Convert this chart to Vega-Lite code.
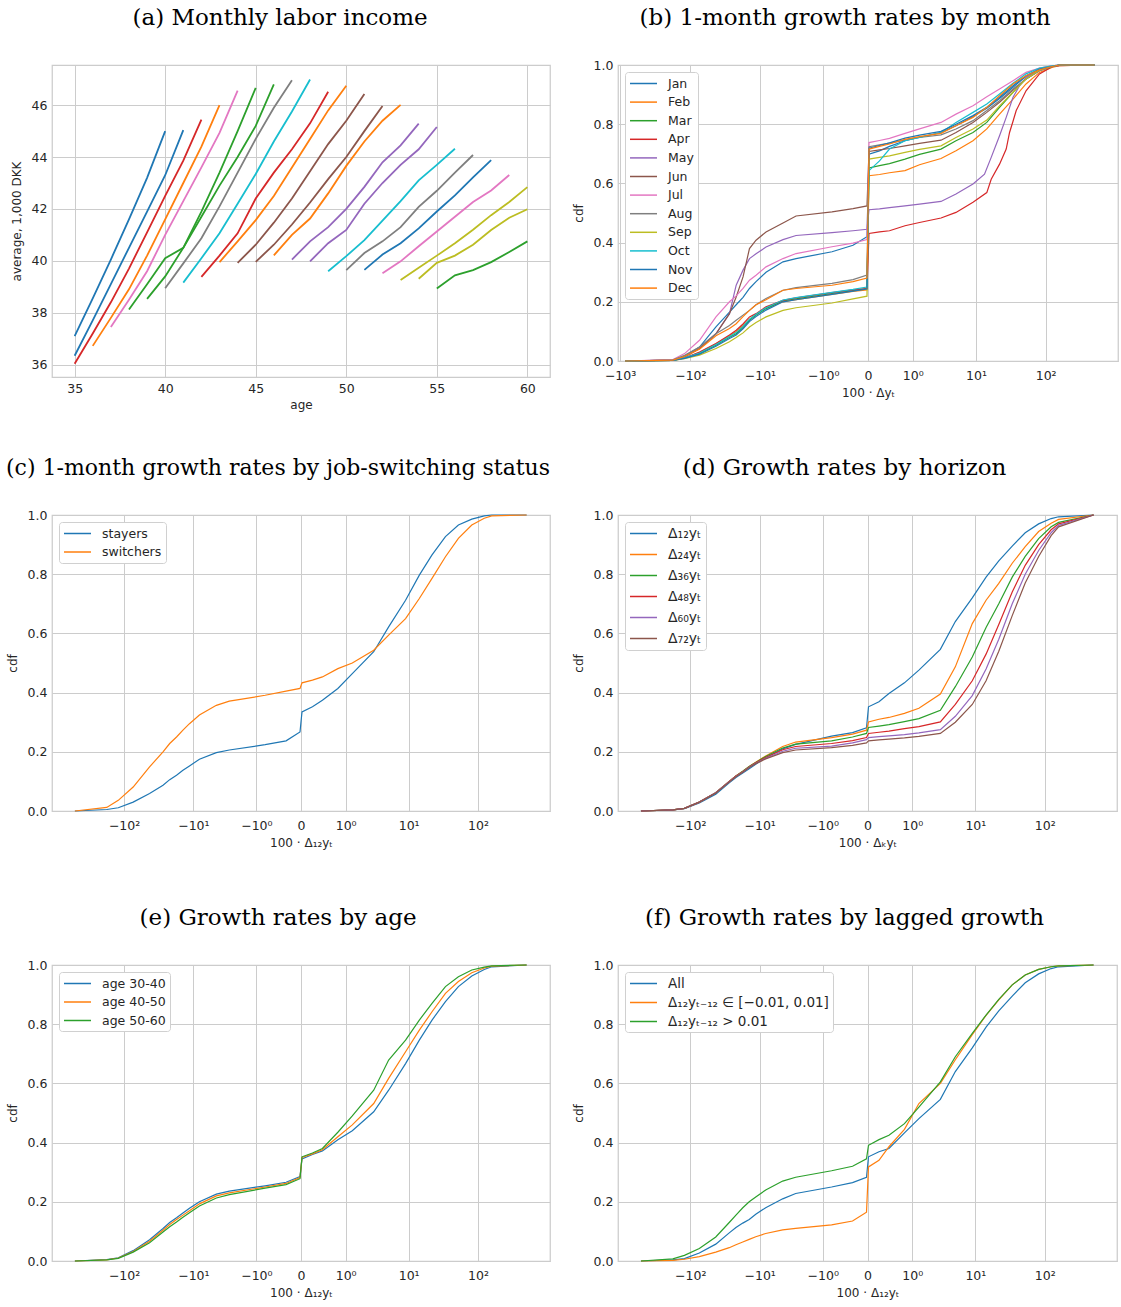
{
"$schema": "https://vega.github.io/schema/vega-lite/v6.json",
"padding": {"left": 5, "top": 6, "right": 0, "bottom": 5},
"background": "white",
"datasets": {
"a": [
{"s":"L1","x":35,"y":37.1},{"s":"L1","x":36,"y":38.55},{"s":"L1","x":37,"y":40.05},{"s":"L1","x":38,"y":41.6},{"s":"L1","x":39,"y":43.2},{"s":"L1","x":40,"y":45.0},
{"s":"L2","x":35,"y":36.34},{"s":"L2","x":36,"y":37.7},{"s":"L2","x":37,"y":39.1},{"s":"L2","x":38,"y":40.5},{"s":"L2","x":39,"y":41.9},{"s":"L2","x":40,"y":43.3},{"s":"L2","x":41,"y":45.04},
{"s":"L3","x":35,"y":36.03},{"s":"L3","x":36,"y":37.2},{"s":"L3","x":37,"y":38.4},{"s":"L3","x":38,"y":39.7},{"s":"L3","x":39,"y":41.1},{"s":"L3","x":40,"y":42.5},{"s":"L3","x":41,"y":43.86},{"s":"L3","x":42,"y":45.44},
{"s":"L4","x":36,"y":36.72},{"s":"L4","x":37,"y":37.8},{"s":"L4","x":38,"y":38.9},{"s":"L4","x":39,"y":40.2},{"s":"L4","x":40,"y":41.6},{"s":"L4","x":41,"y":43.0},{"s":"L4","x":42,"y":44.4},{"s":"L4","x":43,"y":46.0},
{"s":"L5","x":37,"y":37.45},{"s":"L5","x":38,"y":38.5},{"s":"L5","x":39,"y":39.6},{"s":"L5","x":40,"y":41.0},{"s":"L5","x":41,"y":42.3},{"s":"L5","x":42,"y":43.6},{"s":"L5","x":43,"y":44.93},{"s":"L5","x":44,"y":46.56},
{"s":"L6","x":38,"y":38.12},{"s":"L6","x":39,"y":39.1},{"s":"L6","x":40,"y":40.1},{"s":"L6","x":41,"y":40.5},{"s":"L6","x":42,"y":41.9},{"s":"L6","x":43,"y":43.4},{"s":"L6","x":44,"y":45.0},{"s":"L6","x":45,"y":46.67},
{"s":"L7","x":39,"y":38.53},{"s":"L7","x":40,"y":39.4},{"s":"L7","x":41,"y":40.5},{"s":"L7","x":42,"y":41.7},{"s":"L7","x":43,"y":42.9},{"s":"L7","x":44,"y":44.0},{"s":"L7","x":45,"y":45.2},{"s":"L7","x":46,"y":46.8},
{"s":"L8","x":40,"y":38.94},{"s":"L8","x":41,"y":39.9},{"s":"L8","x":42,"y":40.87},{"s":"L8","x":43,"y":42.1},{"s":"L8","x":44,"y":43.4},{"s":"L8","x":45,"y":44.7},{"s":"L8","x":46,"y":45.9},{"s":"L8","x":47,"y":46.96},
{"s":"L9","x":41,"y":39.16},{"s":"L9","x":42,"y":40.1},{"s":"L9","x":43,"y":41.06},{"s":"L9","x":44,"y":42.2},{"s":"L9","x":45,"y":43.35},{"s":"L9","x":46,"y":44.6},{"s":"L9","x":47,"y":45.76},{"s":"L9","x":48,"y":46.99},
{"s":"L10","x":42,"y":39.38},{"s":"L10","x":43,"y":40.2},{"s":"L10","x":44,"y":41.06},{"s":"L10","x":45,"y":42.4},{"s":"L10","x":46,"y":43.4},{"s":"L10","x":47,"y":44.3},{"s":"L10","x":48,"y":45.3},{"s":"L10","x":49,"y":46.52},
{"s":"L11","x":43,"y":39.95},{"s":"L11","x":44,"y":40.75},{"s":"L11","x":45,"y":41.57},{"s":"L11","x":46,"y":42.5},{"s":"L11","x":47,"y":43.6},{"s":"L11","x":48,"y":44.7},{"s":"L11","x":49,"y":45.8},{"s":"L11","x":50,"y":46.75},
{"s":"L12","x":44,"y":39.92},{"s":"L12","x":45,"y":40.62},{"s":"L12","x":46,"y":41.47},{"s":"L12","x":47,"y":42.4},{"s":"L12","x":48,"y":43.45},{"s":"L12","x":49,"y":44.5},{"s":"L12","x":50,"y":45.4},{"s":"L12","x":51,"y":46.43},
{"s":"L13","x":45,"y":39.96},{"s":"L13","x":46,"y":40.62},{"s":"L13","x":47,"y":41.4},{"s":"L13","x":48,"y":42.25},{"s":"L13","x":49,"y":43.15},{"s":"L13","x":50,"y":44.0},{"s":"L13","x":51,"y":45.0},{"s":"L13","x":52,"y":45.97},
{"s":"L14","x":46,"y":40.21},{"s":"L14","x":47,"y":41.0},{"s":"L14","x":48,"y":41.63},{"s":"L14","x":49,"y":42.6},{"s":"L14","x":50,"y":43.66},{"s":"L14","x":51,"y":44.6},{"s":"L14","x":52,"y":45.4},{"s":"L14","x":53,"y":46.01},
{"s":"L15","x":47,"y":40.05},{"s":"L15","x":48,"y":40.75},{"s":"L15","x":49,"y":41.3},{"s":"L15","x":50,"y":42.0},{"s":"L15","x":51,"y":42.85},{"s":"L15","x":52,"y":43.8},{"s":"L15","x":53,"y":44.45},{"s":"L15","x":54,"y":45.29},
{"s":"L16","x":48,"y":39.98},{"s":"L16","x":49,"y":40.68},{"s":"L16","x":50,"y":41.19},{"s":"L16","x":51,"y":42.2},{"s":"L16","x":52,"y":43.0},{"s":"L16","x":53,"y":43.7},{"s":"L16","x":54,"y":44.3},{"s":"L16","x":55,"y":45.16},
{"s":"L17","x":49,"y":39.6},{"s":"L17","x":50,"y":40.18},{"s":"L17","x":51,"y":40.8},{"s":"L17","x":52,"y":41.55},{"s":"L17","x":53,"y":42.3},{"s":"L17","x":54,"y":43.1},{"s":"L17","x":55,"y":43.7},{"s":"L17","x":56,"y":44.32},
{"s":"L18","x":50,"y":39.64},{"s":"L18","x":51,"y":40.3},{"s":"L18","x":52,"y":40.75},{"s":"L18","x":53,"y":41.3},{"s":"L18","x":54,"y":42.08},{"s":"L18","x":55,"y":42.7},{"s":"L18","x":56,"y":43.4},{"s":"L18","x":57,"y":44.08},
{"s":"L19","x":51,"y":39.65},{"s":"L19","x":52,"y":40.24},{"s":"L19","x":53,"y":40.68},{"s":"L19","x":54,"y":41.25},{"s":"L19","x":55,"y":41.9},{"s":"L19","x":56,"y":42.52},{"s":"L19","x":57,"y":43.22},{"s":"L19","x":58,"y":43.88},
{"s":"L20","x":52,"y":39.52},{"s":"L20","x":53,"y":39.98},{"s":"L20","x":54,"y":40.56},{"s":"L20","x":55,"y":41.13},{"s":"L20","x":56,"y":41.7},{"s":"L20","x":57,"y":42.27},{"s":"L20","x":58,"y":42.71},{"s":"L20","x":59,"y":43.31},
{"s":"L21","x":53,"y":39.26},{"s":"L21","x":54,"y":39.73},{"s":"L21","x":55,"y":40.2},{"s":"L21","x":56,"y":40.68},{"s":"L21","x":57,"y":41.2},{"s":"L21","x":58,"y":41.76},{"s":"L21","x":59,"y":42.27},{"s":"L21","x":60,"y":42.84},
{"s":"L22","x":54,"y":39.31},{"s":"L22","x":55,"y":39.92},{"s":"L22","x":56,"y":40.2},{"s":"L22","x":57,"y":40.62},{"s":"L22","x":58,"y":41.19},{"s":"L22","x":59,"y":41.66},{"s":"L22","x":60,"y":41.99},
{"s":"L23","x":55,"y":38.93},{"s":"L23","x":56,"y":39.44},{"s":"L23","x":57,"y":39.64},{"s":"L23","x":58,"y":39.95},{"s":"L23","x":59,"y":40.34},{"s":"L23","x":60,"y":40.75}
],
"b": [
{"s":"Jan","x":-851,"y":0},{"s":"Jan","x":-177,"y":0.003},{"s":"Jan","x":-121,"y":0.016},{"s":"Jan","x":-74.1,"y":0.047},{"s":"Jan","x":-43.1,"y":0.115},{"s":"Jan","x":-27.6,"y":0.165},{"s":"Jan","x":-22.1,"y":0.19},{"s":"Jan","x":-17.6,"y":0.215},{"s":"Jan","x":-14.2,"y":0.245},{"s":"Jan","x":-11.4,"y":0.268},{"s":"Jan","x":-8.14,"y":0.3},{"s":"Jan","x":-4.54,"y":0.335},{"s":"Jan","x":-2.86,"y":0.346},{"s":"Jan","x":-0.674,"y":0.369},{"s":"Jan","x":-0.19,"y":0.391},{"s":"Jan","x":-0.01,"y":0.42},
{"s":"Jan","x":0.01,"y":0.699},{"s":"Jan","x":0.137,"y":0.71},{"s":"Jan","x":0.306,"y":0.725},{"s":"Jan","x":0.707,"y":0.744},{"s":"Jan","x":1.318,"y":0.756},{"s":"Jan","x":2.97,"y":0.772},{"s":"Jan","x":5.04,"y":0.795},{"s":"Jan","x":9.01,"y":0.826},{"s":"Jan","x":14.33,"y":0.854},{"s":"Jan","x":21.9,"y":0.887},{"s":"Jan","x":34.2,"y":0.925},{"s":"Jan","x":52.5,"y":0.962},{"s":"Jan","x":81.7,"y":0.985},{"s":"Jan","x":123.2,"y":0.995},{"s":"Jan","x":157.5,"y":1},{"s":"Jan","x":496,"y":1},
{"s":"Feb","x":-851,"y":0},{"s":"Feb","x":-177,"y":0.002},{"s":"Feb","x":-121,"y":0.01},{"s":"Feb","x":-74.1,"y":0.028},{"s":"Feb","x":-43.1,"y":0.058},{"s":"Feb","x":-27.6,"y":0.085},{"s":"Feb","x":-22.1,"y":0.1},{"s":"Feb","x":-17.6,"y":0.12},{"s":"Feb","x":-14.2,"y":0.14},{"s":"Feb","x":-11.4,"y":0.157},{"s":"Feb","x":-8.14,"y":0.178},{"s":"Feb","x":-4.54,"y":0.2},{"s":"Feb","x":-2.86,"y":0.207},{"s":"Feb","x":-0.674,"y":0.225},{"s":"Feb","x":-0.19,"y":0.235},{"s":"Feb","x":-0.01,"y":0.24},
{"s":"Feb","x":0.01,"y":0.626},{"s":"Feb","x":0.137,"y":0.63},{"s":"Feb","x":0.306,"y":0.636},{"s":"Feb","x":0.707,"y":0.643},{"s":"Feb","x":1.318,"y":0.663},{"s":"Feb","x":2.97,"y":0.684},{"s":"Feb","x":5.04,"y":0.71},{"s":"Feb","x":9.01,"y":0.744},{"s":"Feb","x":14.33,"y":0.784},{"s":"Feb","x":21.9,"y":0.834},{"s":"Feb","x":34.2,"y":0.885},{"s":"Feb","x":52.5,"y":0.936},{"s":"Feb","x":81.7,"y":0.975},{"s":"Feb","x":123.2,"y":0.992},{"s":"Feb","x":157.5,"y":0.998},{"s":"Feb","x":496,"y":1},
{"s":"Mar","x":-851,"y":0},{"s":"Mar","x":-177,"y":0.002},{"s":"Mar","x":-121,"y":0.01},{"s":"Mar","x":-74.1,"y":0.025},{"s":"Mar","x":-43.1,"y":0.053},{"s":"Mar","x":-27.6,"y":0.08},{"s":"Mar","x":-22.1,"y":0.092},{"s":"Mar","x":-17.6,"y":0.113},{"s":"Mar","x":-14.2,"y":0.1375},{"s":"Mar","x":-11.4,"y":0.155},{"s":"Mar","x":-8.14,"y":0.177},{"s":"Mar","x":-4.54,"y":0.203},{"s":"Mar","x":-2.86,"y":0.21},{"s":"Mar","x":-0.674,"y":0.228},{"s":"Mar","x":-0.19,"y":0.238},{"s":"Mar","x":-0.01,"y":0.245},
{"s":"Mar","x":0.01,"y":0.652},{"s":"Mar","x":0.137,"y":0.66},{"s":"Mar","x":0.306,"y":0.667},{"s":"Mar","x":0.707,"y":0.682},{"s":"Mar","x":1.318,"y":0.698},{"s":"Mar","x":2.97,"y":0.716},{"s":"Mar","x":5.04,"y":0.744},{"s":"Mar","x":9.01,"y":0.772},{"s":"Mar","x":14.33,"y":0.806},{"s":"Mar","x":21.9,"y":0.857},{"s":"Mar","x":34.2,"y":0.908},{"s":"Mar","x":52.5,"y":0.953},{"s":"Mar","x":81.7,"y":0.983},{"s":"Mar","x":123.2,"y":0.995},{"s":"Mar","x":157.5,"y":1},{"s":"Mar","x":496,"y":1},
{"s":"Apr","x":-851,"y":0},{"s":"Apr","x":-177,"y":0.002},{"s":"Apr","x":-121,"y":0.01},{"s":"Apr","x":-74.1,"y":0.03},{"s":"Apr","x":-43.1,"y":0.059},{"s":"Apr","x":-27.6,"y":0.088},{"s":"Apr","x":-22.1,"y":0.104},{"s":"Apr","x":-17.6,"y":0.125},{"s":"Apr","x":-14.2,"y":0.149},{"s":"Apr","x":-11.4,"y":0.16},{"s":"Apr","x":-8.14,"y":0.183},{"s":"Apr","x":-4.54,"y":0.205},{"s":"Apr","x":-2.86,"y":0.213},{"s":"Apr","x":-0.674,"y":0.231},{"s":"Apr","x":-0.19,"y":0.24},{"s":"Apr","x":-0.01,"y":0.245},
{"s":"Apr","x":0.01,"y":0.431},{"s":"Apr","x":0.137,"y":0.436},{"s":"Apr","x":0.306,"y":0.44},{"s":"Apr","x":0.707,"y":0.457},{"s":"Apr","x":1.318,"y":0.468},{"s":"Apr","x":2.97,"y":0.483},{"s":"Apr","x":5.04,"y":0.502},{"s":"Apr","x":9.01,"y":0.536},{"s":"Apr","x":14.33,"y":0.569},{"s":"Apr","x":16.6,"y":0.614},{"s":"Apr","x":21.9,"y":0.665},{"s":"Apr","x":27.3,"y":0.716},{"s":"Apr","x":30.5,"y":0.772},{"s":"Apr","x":34.2,"y":0.81},{"s":"Apr","x":38.0,"y":0.846},{"s":"Apr","x":52.5,"y":0.913},{"s":"Apr","x":81.7,"y":0.97},{"s":"Apr","x":123.2,"y":0.994},{"s":"Apr","x":157.5,"y":0.998},{"s":"Apr","x":496,"y":1},
{"s":"May","x":-851,"y":0},{"s":"May","x":-177,"y":0.003},{"s":"May","x":-121,"y":0.0135},{"s":"May","x":-74.1,"y":0.042},{"s":"May","x":-43.1,"y":0.092},{"s":"May","x":-27.6,"y":0.16},{"s":"May","x":-22.1,"y":0.256},{"s":"May","x":-17.6,"y":0.307},{"s":"May","x":-14.2,"y":0.346},{"s":"May","x":-11.4,"y":0.362},{"s":"May","x":-8.14,"y":0.385},{"s":"May","x":-4.54,"y":0.41},{"s":"May","x":-2.86,"y":0.424},{"s":"May","x":-0.674,"y":0.434},{"s":"May","x":-0.19,"y":0.44},{"s":"May","x":-0.01,"y":0.445},
{"s":"May","x":0.01,"y":0.511},{"s":"May","x":0.137,"y":0.514},{"s":"May","x":0.306,"y":0.518},{"s":"May","x":0.707,"y":0.524},{"s":"May","x":1.318,"y":0.53},{"s":"May","x":2.97,"y":0.539},{"s":"May","x":5.04,"y":0.564},{"s":"May","x":9.01,"y":0.598},{"s":"May","x":13.27,"y":0.631},{"s":"May","x":16.6,"y":0.688},{"s":"May","x":21.9,"y":0.761},{"s":"May","x":27.3,"y":0.823},{"s":"May","x":34.2,"y":0.891},{"s":"May","x":42.4,"y":0.93},{"s":"May","x":52.5,"y":0.958},{"s":"May","x":81.7,"y":0.986},{"s":"May","x":123.2,"y":0.997},{"s":"May","x":157.5,"y":1},{"s":"May","x":496,"y":1},
{"s":"Jun","x":-851,"y":0},{"s":"Jun","x":-177,"y":0.003},{"s":"Jun","x":-121,"y":0.0135},{"s":"Jun","x":-74.1,"y":0.042},{"s":"Jun","x":-43.1,"y":0.092},{"s":"Jun","x":-27.6,"y":0.16},{"s":"Jun","x":-22.1,"y":0.216},{"s":"Jun","x":-17.6,"y":0.284},{"s":"Jun","x":-14.2,"y":0.38},{"s":"Jun","x":-11.4,"y":0.408},{"s":"Jun","x":-8.14,"y":0.436},{"s":"Jun","x":-4.54,"y":0.466},{"s":"Jun","x":-2.86,"y":0.49},{"s":"Jun","x":-0.674,"y":0.504},{"s":"Jun","x":-0.19,"y":0.515},{"s":"Jun","x":-0.01,"y":0.524},
{"s":"Jun","x":0.01,"y":0.708},{"s":"Jun","x":0.137,"y":0.713},{"s":"Jun","x":0.306,"y":0.718},{"s":"Jun","x":0.707,"y":0.727},{"s":"Jun","x":1.318,"y":0.735},{"s":"Jun","x":2.97,"y":0.746},{"s":"Jun","x":5.04,"y":0.772},{"s":"Jun","x":9.01,"y":0.806},{"s":"Jun","x":14.33,"y":0.84},{"s":"Jun","x":21.9,"y":0.874},{"s":"Jun","x":34.2,"y":0.915},{"s":"Jun","x":52.5,"y":0.953},{"s":"Jun","x":81.7,"y":0.981},{"s":"Jun","x":123.2,"y":0.995},{"s":"Jun","x":157.5,"y":1},{"s":"Jun","x":496,"y":1},
{"s":"Jul","x":-851,"y":0},{"s":"Jul","x":-177,"y":0.005},{"s":"Jul","x":-121,"y":0.025},{"s":"Jul","x":-74.1,"y":0.07},{"s":"Jul","x":-43.1,"y":0.149},{"s":"Jul","x":-27.6,"y":0.2},{"s":"Jul","x":-22.1,"y":0.22},{"s":"Jul","x":-17.6,"y":0.245},{"s":"Jul","x":-14.2,"y":0.273},{"s":"Jul","x":-11.4,"y":0.29},{"s":"Jul","x":-8.14,"y":0.318},{"s":"Jul","x":-4.54,"y":0.346},{"s":"Jul","x":-2.86,"y":0.363},{"s":"Jul","x":-0.674,"y":0.386},{"s":"Jul","x":-0.19,"y":0.398},{"s":"Jul","x":-0.01,"y":0.41},
{"s":"Jul","x":0.01,"y":0.738},{"s":"Jul","x":0.137,"y":0.745},{"s":"Jul","x":0.306,"y":0.752},{"s":"Jul","x":0.707,"y":0.769},{"s":"Jul","x":1.318,"y":0.784},{"s":"Jul","x":2.97,"y":0.806},{"s":"Jul","x":5.04,"y":0.834},{"s":"Jul","x":9.01,"y":0.862},{"s":"Jul","x":14.33,"y":0.893},{"s":"Jul","x":21.9,"y":0.919},{"s":"Jul","x":34.2,"y":0.947},{"s":"Jul","x":52.5,"y":0.975},{"s":"Jul","x":81.7,"y":0.99},{"s":"Jul","x":123.2,"y":0.997},{"s":"Jul","x":157.5,"y":1},{"s":"Jul","x":496,"y":1},
{"s":"Aug","x":-851,"y":0},{"s":"Aug","x":-177,"y":0.004},{"s":"Aug","x":-121,"y":0.019},{"s":"Aug","x":-74.1,"y":0.047},{"s":"Aug","x":-43.1,"y":0.092},{"s":"Aug","x":-27.6,"y":0.12},{"s":"Aug","x":-22.1,"y":0.1375},{"s":"Aug","x":-17.6,"y":0.155},{"s":"Aug","x":-14.2,"y":0.171},{"s":"Aug","x":-11.4,"y":0.19},{"s":"Aug","x":-8.14,"y":0.211},{"s":"Aug","x":-4.54,"y":0.239},{"s":"Aug","x":-2.86,"y":0.248},{"s":"Aug","x":-0.674,"y":0.262},{"s":"Aug","x":-0.19,"y":0.275},{"s":"Aug","x":-0.01,"y":0.29},
{"s":"Aug","x":0.01,"y":0.724},{"s":"Aug","x":0.137,"y":0.73},{"s":"Aug","x":0.306,"y":0.736},{"s":"Aug","x":0.707,"y":0.746},{"s":"Aug","x":1.318,"y":0.755},{"s":"Aug","x":2.97,"y":0.764},{"s":"Aug","x":5.04,"y":0.784},{"s":"Aug","x":9.01,"y":0.812},{"s":"Aug","x":14.33,"y":0.846},{"s":"Aug","x":21.9,"y":0.879},{"s":"Aug","x":34.2,"y":0.919},{"s":"Aug","x":52.5,"y":0.953},{"s":"Aug","x":81.7,"y":0.981},{"s":"Aug","x":123.2,"y":0.994},{"s":"Aug","x":157.5,"y":0.999},{"s":"Aug","x":496,"y":1},
{"s":"Sep","x":-851,"y":0},{"s":"Sep","x":-177,"y":0.002},{"s":"Sep","x":-121,"y":0.008},{"s":"Sep","x":-74.1,"y":0.02},{"s":"Sep","x":-43.1,"y":0.042},{"s":"Sep","x":-27.6,"y":0.065},{"s":"Sep","x":-22.1,"y":0.079},{"s":"Sep","x":-17.6,"y":0.095},{"s":"Sep","x":-14.2,"y":0.115},{"s":"Sep","x":-11.4,"y":0.13},{"s":"Sep","x":-8.14,"y":0.149},{"s":"Sep","x":-4.54,"y":0.171},{"s":"Sep","x":-2.86,"y":0.18},{"s":"Sep","x":-0.674,"y":0.196},{"s":"Sep","x":-0.19,"y":0.21},{"s":"Sep","x":-0.01,"y":0.219},
{"s":"Sep","x":0.01,"y":0.682},{"s":"Sep","x":0.137,"y":0.688},{"s":"Sep","x":0.306,"y":0.693},{"s":"Sep","x":0.707,"y":0.705},{"s":"Sep","x":1.318,"y":0.715},{"s":"Sep","x":2.97,"y":0.727},{"s":"Sep","x":5.04,"y":0.755},{"s":"Sep","x":9.01,"y":0.784},{"s":"Sep","x":14.33,"y":0.814},{"s":"Sep","x":21.9,"y":0.862},{"s":"Sep","x":34.2,"y":0.908},{"s":"Sep","x":52.5,"y":0.953},{"s":"Sep","x":81.7,"y":0.983},{"s":"Sep","x":123.2,"y":0.995},{"s":"Sep","x":157.5,"y":1},{"s":"Sep","x":496,"y":1},
{"s":"Oct","x":-851,"y":0},{"s":"Oct","x":-177,"y":0.002},{"s":"Oct","x":-121,"y":0.011},{"s":"Oct","x":-74.1,"y":0.027},{"s":"Oct","x":-43.1,"y":0.056},{"s":"Oct","x":-27.6,"y":0.083},{"s":"Oct","x":-22.1,"y":0.096},{"s":"Oct","x":-17.6,"y":0.117},{"s":"Oct","x":-14.2,"y":0.141},{"s":"Oct","x":-11.4,"y":0.158},{"s":"Oct","x":-8.14,"y":0.18},{"s":"Oct","x":-4.54,"y":0.206},{"s":"Oct","x":-2.86,"y":0.214},{"s":"Oct","x":-0.674,"y":0.232},{"s":"Oct","x":-0.19,"y":0.242},{"s":"Oct","x":-0.01,"y":0.25},
{"s":"Oct","x":0.01,"y":0.643},{"s":"Oct","x":0.137,"y":0.676},{"s":"Oct","x":0.306,"y":0.716},{"s":"Oct","x":0.707,"y":0.744},{"s":"Oct","x":1.318,"y":0.755},{"s":"Oct","x":2.97,"y":0.772},{"s":"Oct","x":5.04,"y":0.806},{"s":"Oct","x":9.01,"y":0.84},{"s":"Oct","x":14.33,"y":0.868},{"s":"Oct","x":21.9,"y":0.902},{"s":"Oct","x":34.2,"y":0.938},{"s":"Oct","x":52.5,"y":0.97},{"s":"Oct","x":81.7,"y":0.99},{"s":"Oct","x":123.2,"y":0.997},{"s":"Oct","x":157.5,"y":1},{"s":"Oct","x":496,"y":1},
{"s":"Nov","x":-851,"y":0},{"s":"Nov","x":-177,"y":0.002},{"s":"Nov","x":-121,"y":0.009},{"s":"Nov","x":-74.1,"y":0.023},{"s":"Nov","x":-43.1,"y":0.05},{"s":"Nov","x":-27.6,"y":0.076},{"s":"Nov","x":-22.1,"y":0.088},{"s":"Nov","x":-17.6,"y":0.109},{"s":"Nov","x":-14.2,"y":0.133},{"s":"Nov","x":-11.4,"y":0.15},{"s":"Nov","x":-8.14,"y":0.172},{"s":"Nov","x":-4.54,"y":0.2},{"s":"Nov","x":-2.86,"y":0.207},{"s":"Nov","x":-0.674,"y":0.225},{"s":"Nov","x":-0.19,"y":0.236},{"s":"Nov","x":-0.01,"y":0.243},
{"s":"Nov","x":0.01,"y":0.719},{"s":"Nov","x":0.137,"y":0.728},{"s":"Nov","x":0.306,"y":0.737},{"s":"Nov","x":0.707,"y":0.753},{"s":"Nov","x":1.318,"y":0.763},{"s":"Nov","x":2.97,"y":0.776},{"s":"Nov","x":5.04,"y":0.8},{"s":"Nov","x":9.01,"y":0.829},{"s":"Nov","x":14.33,"y":0.857},{"s":"Nov","x":21.9,"y":0.891},{"s":"Nov","x":34.2,"y":0.93},{"s":"Nov","x":52.5,"y":0.964},{"s":"Nov","x":81.7,"y":0.986},{"s":"Nov","x":123.2,"y":0.995},{"s":"Nov","x":157.5,"y":1},{"s":"Nov","x":496,"y":1},
{"s":"Dec","x":-851,"y":0},{"s":"Dec","x":-177,"y":0.003},{"s":"Dec","x":-121,"y":0.015},{"s":"Dec","x":-74.1,"y":0.04},{"s":"Dec","x":-43.1,"y":0.085},{"s":"Dec","x":-27.6,"y":0.11},{"s":"Dec","x":-22.1,"y":0.126},{"s":"Dec","x":-17.6,"y":0.15},{"s":"Dec","x":-14.2,"y":0.171},{"s":"Dec","x":-11.4,"y":0.19},{"s":"Dec","x":-8.14,"y":0.207},{"s":"Dec","x":-4.54,"y":0.239},{"s":"Dec","x":-2.86,"y":0.245},{"s":"Dec","x":-0.674,"y":0.256},{"s":"Dec","x":-0.19,"y":0.268},{"s":"Dec","x":-0.01,"y":0.28},
{"s":"Dec","x":0.01,"y":0.716},{"s":"Dec","x":0.137,"y":0.725},{"s":"Dec","x":0.306,"y":0.733},{"s":"Dec","x":0.707,"y":0.749},{"s":"Dec","x":1.318,"y":0.758},{"s":"Dec","x":2.97,"y":0.769},{"s":"Dec","x":5.04,"y":0.795},{"s":"Dec","x":9.01,"y":0.823},{"s":"Dec","x":14.33,"y":0.857},{"s":"Dec","x":21.9,"y":0.896},{"s":"Dec","x":34.2,"y":0.936},{"s":"Dec","x":52.5,"y":0.964},{"s":"Dec","x":81.7,"y":0.984},{"s":"Dec","x":123.2,"y":0.995},{"s":"Dec","x":157.5,"y":1},{"s":"Dec","x":496,"y":1}
],
"c": [
{"s":"stayers","x":-504,"y":0},{"s":"stayers","x":-177,"y":0.005},{"s":"stayers","x":-121,"y":0.011},{"s":"stayers","x":-74.1,"y":0.03},{"s":"stayers","x":-43.1,"y":0.059},{"s":"stayers","x":-27.6,"y":0.087},{"s":"stayers","x":-22.1,"y":0.106},{"s":"stayers","x":-17.6,"y":0.121},{"s":"stayers","x":-14.2,"y":0.1375},{"s":"stayers","x":-11.4,"y":0.152},{"s":"stayers","x":-8.14,"y":0.175},{"s":"stayers","x":-4.54,"y":0.197},{"s":"stayers","x":-2.86,"y":0.206},{"s":"stayers","x":-0.674,"y":0.224},{"s":"stayers","x":-0.19,"y":0.237},{"s":"stayers","x":-0.01,"y":0.267},
{"s":"stayers","x":0.01,"y":0.335},{"s":"stayers","x":0.137,"y":0.352},{"s":"stayers","x":0.306,"y":0.374},{"s":"stayers","x":0.707,"y":0.414},{"s":"stayers","x":1.318,"y":0.464},{"s":"stayers","x":2.97,"y":0.538},{"s":"stayers","x":5.04,"y":0.622},{"s":"stayers","x":9.01,"y":0.712},{"s":"stayers","x":14.33,"y":0.797},{"s":"stayers","x":21.9,"y":0.865},{"s":"stayers","x":34.2,"y":0.927},{"s":"stayers","x":52.5,"y":0.966},{"s":"stayers","x":81.7,"y":0.986},{"s":"stayers","x":123.2,"y":0.997},{"s":"stayers","x":157.5,"y":1},{"s":"stayers","x":496,"y":1},
{"s":"switchers","x":-504,"y":0},{"s":"switchers","x":-177,"y":0.012},{"s":"switchers","x":-121,"y":0.036},{"s":"switchers","x":-74.1,"y":0.081},{"s":"switchers","x":-43.1,"y":0.149},{"s":"switchers","x":-27.6,"y":0.2},{"s":"switchers","x":-22.1,"y":0.228},{"s":"switchers","x":-17.6,"y":0.25},{"s":"switchers","x":-14.2,"y":0.273},{"s":"switchers","x":-11.4,"y":0.295},{"s":"switchers","x":-8.14,"y":0.324},{"s":"switchers","x":-4.54,"y":0.357},{"s":"switchers","x":-2.86,"y":0.371},{"s":"switchers","x":-0.674,"y":0.391},{"s":"switchers","x":-0.19,"y":0.405},{"s":"switchers","x":-0.01,"y":0.414},
{"s":"switchers","x":0.01,"y":0.433},{"s":"switchers","x":0.137,"y":0.442},{"s":"switchers","x":0.306,"y":0.453},{"s":"switchers","x":0.707,"y":0.481},{"s":"switchers","x":1.318,"y":0.5},{"s":"switchers","x":2.97,"y":0.543},{"s":"switchers","x":5.04,"y":0.594},{"s":"switchers","x":9.01,"y":0.65},{"s":"switchers","x":14.33,"y":0.718},{"s":"switchers","x":21.9,"y":0.786},{"s":"switchers","x":34.2,"y":0.859},{"s":"switchers","x":52.5,"y":0.921},{"s":"switchers","x":81.7,"y":0.966},{"s":"switchers","x":123.2,"y":0.989},{"s":"switchers","x":157.5,"y":0.997},{"s":"switchers","x":496,"y":1}
],
"d": [
{"s":"k12","x":-504,"y":0},{"s":"k12","x":-177,"y":0.004},{"s":"k12","x":-121,"y":0.008},{"s":"k12","x":-74.1,"y":0.027},{"s":"k12","x":-43.1,"y":0.057},{"s":"k12","x":-27.6,"y":0.095},{"s":"k12","x":-22.1,"y":0.113},{"s":"k12","x":-17.6,"y":0.128},{"s":"k12","x":-14.2,"y":0.143},{"s":"k12","x":-11.4,"y":0.158},{"s":"k12","x":-8.14,"y":0.18},{"s":"k12","x":-4.54,"y":0.21},{"s":"k12","x":-2.86,"y":0.225},{"s":"k12","x":-0.674,"y":0.253},{"s":"k12","x":-0.19,"y":0.265},{"s":"k12","x":-0.01,"y":0.281},
{"s":"k12","x":0.01,"y":0.352},{"s":"k12","x":0.137,"y":0.369},{"s":"k12","x":0.306,"y":0.397},{"s":"k12","x":0.707,"y":0.433},{"s":"k12","x":1.318,"y":0.476},{"s":"k12","x":2.97,"y":0.546},{"s":"k12","x":5.04,"y":0.64},{"s":"k12","x":9.01,"y":0.72},{"s":"k12","x":14.33,"y":0.79},{"s":"k12","x":21.9,"y":0.845},{"s":"k12","x":34.2,"y":0.895},{"s":"k12","x":52.5,"y":0.94},{"s":"k12","x":81.7,"y":0.97},{"s":"k12","x":123.2,"y":0.988},{"s":"k12","x":157.5,"y":0.994},{"s":"k12","x":496,"y":1},
{"s":"k24","x":-504,"y":0},{"s":"k24","x":-177,"y":0.004},{"s":"k24","x":-121,"y":0.009},{"s":"k24","x":-74.1,"y":0.03},{"s":"k24","x":-43.1,"y":0.062},{"s":"k24","x":-27.6,"y":0.1},{"s":"k24","x":-22.1,"y":0.118},{"s":"k24","x":-17.6,"y":0.134},{"s":"k24","x":-14.2,"y":0.15},{"s":"k24","x":-11.4,"y":0.165},{"s":"k24","x":-8.14,"y":0.186},{"s":"k24","x":-4.54,"y":0.218},{"s":"k24","x":-2.86,"y":0.233},{"s":"k24","x":-0.674,"y":0.248},{"s":"k24","x":-0.19,"y":0.26},{"s":"k24","x":-0.01,"y":0.273},
{"s":"k24","x":0.01,"y":0.301},{"s":"k24","x":0.137,"y":0.31},{"s":"k24","x":0.306,"y":0.316},{"s":"k24","x":0.707,"y":0.33},{"s":"k24","x":1.318,"y":0.347},{"s":"k24","x":2.97,"y":0.395},{"s":"k24","x":5.04,"y":0.487},{"s":"k24","x":9.01,"y":0.633},{"s":"k24","x":14.33,"y":0.712},{"s":"k24","x":21.9,"y":0.769},{"s":"k24","x":34.2,"y":0.837},{"s":"k24","x":52.5,"y":0.893},{"s":"k24","x":81.7,"y":0.944},{"s":"k24","x":123.2,"y":0.972},{"s":"k24","x":157.5,"y":0.985},{"s":"k24","x":496,"y":1},
{"s":"k36","x":-504,"y":0},{"s":"k36","x":-177,"y":0.004},{"s":"k36","x":-121,"y":0.009},{"s":"k36","x":-74.1,"y":0.03},{"s":"k36","x":-43.1,"y":0.062},{"s":"k36","x":-27.6,"y":0.1},{"s":"k36","x":-22.1,"y":0.118},{"s":"k36","x":-17.6,"y":0.134},{"s":"k36","x":-14.2,"y":0.15},{"s":"k36","x":-11.4,"y":0.164},{"s":"k36","x":-8.14,"y":0.184},{"s":"k36","x":-4.54,"y":0.213},{"s":"k36","x":-2.86,"y":0.226},{"s":"k36","x":-0.674,"y":0.237},{"s":"k36","x":-0.19,"y":0.25},{"s":"k36","x":-0.01,"y":0.262},
{"s":"k36","x":0.01,"y":0.282},{"s":"k36","x":0.137,"y":0.287},{"s":"k36","x":0.306,"y":0.292},{"s":"k36","x":0.707,"y":0.302},{"s":"k36","x":1.318,"y":0.312},{"s":"k36","x":2.97,"y":0.34},{"s":"k36","x":5.04,"y":0.42},{"s":"k36","x":9.01,"y":0.52},{"s":"k36","x":14.33,"y":0.62},{"s":"k36","x":21.9,"y":0.7},{"s":"k36","x":34.2,"y":0.79},{"s":"k36","x":52.5,"y":0.86},{"s":"k36","x":81.7,"y":0.92},{"s":"k36","x":123.2,"y":0.96},{"s":"k36","x":157.5,"y":0.975},{"s":"k36","x":496,"y":1},
{"s":"k48","x":-504,"y":0},{"s":"k48","x":-177,"y":0.004},{"s":"k48","x":-121,"y":0.009},{"s":"k48","x":-74.1,"y":0.03},{"s":"k48","x":-43.1,"y":0.062},{"s":"k48","x":-27.6,"y":0.1},{"s":"k48","x":-22.1,"y":0.118},{"s":"k48","x":-17.6,"y":0.133},{"s":"k48","x":-14.2,"y":0.149},{"s":"k48","x":-11.4,"y":0.163},{"s":"k48","x":-8.14,"y":0.181},{"s":"k48","x":-4.54,"y":0.207},{"s":"k48","x":-2.86,"y":0.218},{"s":"k48","x":-0.674,"y":0.228},{"s":"k48","x":-0.19,"y":0.238},{"s":"k48","x":-0.01,"y":0.248},
{"s":"k48","x":0.01,"y":0.262},{"s":"k48","x":0.137,"y":0.266},{"s":"k48","x":0.306,"y":0.27},{"s":"k48","x":0.707,"y":0.278},{"s":"k48","x":1.318,"y":0.285},{"s":"k48","x":2.97,"y":0.301},{"s":"k48","x":5.04,"y":0.36},{"s":"k48","x":9.01,"y":0.44},{"s":"k48","x":14.33,"y":0.53},{"s":"k48","x":21.9,"y":0.63},{"s":"k48","x":34.2,"y":0.74},{"s":"k48","x":52.5,"y":0.83},{"s":"k48","x":81.7,"y":0.9},{"s":"k48","x":123.2,"y":0.95},{"s":"k48","x":157.5,"y":0.97},{"s":"k48","x":496,"y":1},
{"s":"k60","x":-504,"y":0},{"s":"k60","x":-177,"y":0.004},{"s":"k60","x":-121,"y":0.009},{"s":"k60","x":-74.1,"y":0.03},{"s":"k60","x":-43.1,"y":0.062},{"s":"k60","x":-27.6,"y":0.099},{"s":"k60","x":-22.1,"y":0.117},{"s":"k60","x":-17.6,"y":0.132},{"s":"k60","x":-14.2,"y":0.148},{"s":"k60","x":-11.4,"y":0.161},{"s":"k60","x":-8.14,"y":0.178},{"s":"k60","x":-4.54,"y":0.202},{"s":"k60","x":-2.86,"y":0.212},{"s":"k60","x":-0.674,"y":0.219},{"s":"k60","x":-0.19,"y":0.23},{"s":"k60","x":-0.01,"y":0.241},
{"s":"k60","x":0.01,"y":0.248},{"s":"k60","x":0.137,"y":0.251},{"s":"k60","x":0.306,"y":0.254},{"s":"k60","x":0.707,"y":0.258},{"s":"k60","x":1.318,"y":0.264},{"s":"k60","x":2.97,"y":0.275},{"s":"k60","x":5.04,"y":0.32},{"s":"k60","x":9.01,"y":0.39},{"s":"k60","x":14.33,"y":0.48},{"s":"k60","x":21.9,"y":0.58},{"s":"k60","x":34.2,"y":0.7},{"s":"k60","x":52.5,"y":0.8},{"s":"k60","x":81.7,"y":0.88},{"s":"k60","x":123.2,"y":0.94},{"s":"k60","x":157.5,"y":0.965},{"s":"k60","x":496,"y":1},
{"s":"k72","x":-504,"y":0},{"s":"k72","x":-177,"y":0.004},{"s":"k72","x":-121,"y":0.009},{"s":"k72","x":-74.1,"y":0.03},{"s":"k72","x":-43.1,"y":0.061},{"s":"k72","x":-27.6,"y":0.098},{"s":"k72","x":-22.1,"y":0.116},{"s":"k72","x":-17.6,"y":0.131},{"s":"k72","x":-14.2,"y":0.147},{"s":"k72","x":-11.4,"y":0.16},{"s":"k72","x":-8.14,"y":0.176},{"s":"k72","x":-4.54,"y":0.197},{"s":"k72","x":-2.86,"y":0.206},{"s":"k72","x":-0.674,"y":0.214},{"s":"k72","x":-0.19,"y":0.222},{"s":"k72","x":-0.01,"y":0.23},
{"s":"k72","x":0.01,"y":0.237},{"s":"k72","x":0.137,"y":0.24},{"s":"k72","x":0.306,"y":0.243},{"s":"k72","x":0.707,"y":0.247},{"s":"k72","x":1.318,"y":0.252},{"s":"k72","x":2.97,"y":0.262},{"s":"k72","x":5.04,"y":0.3},{"s":"k72","x":9.01,"y":0.36},{"s":"k72","x":14.33,"y":0.44},{"s":"k72","x":21.9,"y":0.54},{"s":"k72","x":34.2,"y":0.66},{"s":"k72","x":52.5,"y":0.77},{"s":"k72","x":81.7,"y":0.86},{"s":"k72","x":123.2,"y":0.93},{"s":"k72","x":157.5,"y":0.96},{"s":"k72","x":496,"y":1}
],
"e": [
{"s":"age 30-40","x":-504,"y":0},{"s":"age 30-40","x":-177,"y":0.005},{"s":"age 30-40","x":-121,"y":0.011},{"s":"age 30-40","x":-74.1,"y":0.035},{"s":"age 30-40","x":-43.1,"y":0.072},{"s":"age 30-40","x":-27.6,"y":0.11},{"s":"age 30-40","x":-22.1,"y":0.13},{"s":"age 30-40","x":-17.6,"y":0.146},{"s":"age 30-40","x":-14.2,"y":0.162},{"s":"age 30-40","x":-11.4,"y":0.178},{"s":"age 30-40","x":-8.14,"y":0.2},{"s":"age 30-40","x":-4.54,"y":0.226},{"s":"age 30-40","x":-2.86,"y":0.236},{"s":"age 30-40","x":-0.674,"y":0.254},{"s":"age 30-40","x":-0.19,"y":0.266},{"s":"age 30-40","x":-0.01,"y":0.285},
{"s":"age 30-40","x":0.01,"y":0.345},{"s":"age 30-40","x":0.137,"y":0.36},{"s":"age 30-40","x":0.306,"y":0.372},{"s":"age 30-40","x":0.707,"y":0.41},{"s":"age 30-40","x":1.318,"y":0.44},{"s":"age 30-40","x":2.97,"y":0.504},{"s":"age 30-40","x":5.04,"y":0.577},{"s":"age 30-40","x":9.01,"y":0.667},{"s":"age 30-40","x":14.33,"y":0.746},{"s":"age 30-40","x":21.9,"y":0.814},{"s":"age 30-40","x":34.2,"y":0.876},{"s":"age 30-40","x":52.5,"y":0.927},{"s":"age 30-40","x":81.7,"y":0.963},{"s":"age 30-40","x":123.2,"y":0.985},{"s":"age 30-40","x":157.5,"y":0.994},{"s":"age 30-40","x":496,"y":1},
{"s":"age 40-50","x":-504,"y":0},{"s":"age 40-50","x":-177,"y":0.004},{"s":"age 40-50","x":-121,"y":0.01},{"s":"age 40-50","x":-74.1,"y":0.032},{"s":"age 40-50","x":-43.1,"y":0.067},{"s":"age 40-50","x":-27.6,"y":0.104},{"s":"age 40-50","x":-22.1,"y":0.123},{"s":"age 40-50","x":-17.6,"y":0.14},{"s":"age 40-50","x":-14.2,"y":0.155},{"s":"age 40-50","x":-11.4,"y":0.17},{"s":"age 40-50","x":-8.14,"y":0.193},{"s":"age 40-50","x":-4.54,"y":0.22},{"s":"age 40-50","x":-2.86,"y":0.23},{"s":"age 40-50","x":-0.674,"y":0.25},{"s":"age 40-50","x":-0.19,"y":0.262},{"s":"age 40-50","x":-0.01,"y":0.282},
{"s":"age 40-50","x":0.01,"y":0.35},{"s":"age 40-50","x":0.137,"y":0.362},{"s":"age 40-50","x":0.306,"y":0.376},{"s":"age 40-50","x":0.707,"y":0.42},{"s":"age 40-50","x":1.318,"y":0.46},{"s":"age 40-50","x":2.97,"y":0.532},{"s":"age 40-50","x":5.04,"y":0.617},{"s":"age 40-50","x":9.01,"y":0.707},{"s":"age 40-50","x":14.33,"y":0.78},{"s":"age 40-50","x":21.9,"y":0.842},{"s":"age 40-50","x":34.2,"y":0.904},{"s":"age 40-50","x":52.5,"y":0.944},{"s":"age 40-50","x":81.7,"y":0.974},{"s":"age 40-50","x":123.2,"y":0.99},{"s":"age 40-50","x":157.5,"y":0.996},{"s":"age 40-50","x":496,"y":1},
{"s":"age 50-60","x":-504,"y":0},{"s":"age 50-60","x":-177,"y":0.004},{"s":"age 50-60","x":-121,"y":0.009},{"s":"age 50-60","x":-74.1,"y":0.03},{"s":"age 50-60","x":-43.1,"y":0.062},{"s":"age 50-60","x":-27.6,"y":0.098},{"s":"age 50-60","x":-22.1,"y":0.116},{"s":"age 50-60","x":-17.6,"y":0.132},{"s":"age 50-60","x":-14.2,"y":0.148},{"s":"age 50-60","x":-11.4,"y":0.163},{"s":"age 50-60","x":-8.14,"y":0.186},{"s":"age 50-60","x":-4.54,"y":0.213},{"s":"age 50-60","x":-2.86,"y":0.224},{"s":"age 50-60","x":-0.674,"y":0.246},{"s":"age 50-60","x":-0.19,"y":0.258},{"s":"age 50-60","x":-0.01,"y":0.278},
{"s":"age 50-60","x":0.01,"y":0.352},{"s":"age 50-60","x":0.137,"y":0.365},{"s":"age 50-60","x":0.306,"y":0.38},{"s":"age 50-60","x":0.707,"y":0.435},{"s":"age 50-60","x":1.318,"y":0.49},{"s":"age 50-60","x":2.97,"y":0.577},{"s":"age 50-60","x":5.04,"y":0.679},{"s":"age 50-60","x":9.01,"y":0.746},{"s":"age 50-60","x":14.33,"y":0.814},{"s":"age 50-60","x":21.9,"y":0.87},{"s":"age 50-60","x":34.2,"y":0.927},{"s":"age 50-60","x":52.5,"y":0.96},{"s":"age 50-60","x":81.7,"y":0.983},{"s":"age 50-60","x":123.2,"y":0.993},{"s":"age 50-60","x":157.5,"y":0.997},{"s":"age 50-60","x":496,"y":1}
],
"f": [
{"s":"all","x":-504,"y":0},{"s":"all","x":-177,"y":0.004},{"s":"all","x":-121,"y":0.008},{"s":"all","x":-74.1,"y":0.027},{"s":"all","x":-43.1,"y":0.057},{"s":"all","x":-27.6,"y":0.095},{"s":"all","x":-22.1,"y":0.113},{"s":"all","x":-17.6,"y":0.128},{"s":"all","x":-14.2,"y":0.14},{"s":"all","x":-11.4,"y":0.158},{"s":"all","x":-8.14,"y":0.18},{"s":"all","x":-4.54,"y":0.21},{"s":"all","x":-2.86,"y":0.228},{"s":"all","x":-0.674,"y":0.25},{"s":"all","x":-0.19,"y":0.265},{"s":"all","x":-0.01,"y":0.283},
{"s":"all","x":0.01,"y":0.352},{"s":"all","x":0.137,"y":0.369},{"s":"all","x":0.306,"y":0.38},{"s":"all","x":0.707,"y":0.433},{"s":"all","x":1.318,"y":0.481},{"s":"all","x":2.97,"y":0.546},{"s":"all","x":5.04,"y":0.64},{"s":"all","x":9.01,"y":0.72},{"s":"all","x":14.33,"y":0.79},{"s":"all","x":21.9,"y":0.845},{"s":"all","x":34.2,"y":0.895},{"s":"all","x":52.5,"y":0.94},{"s":"all","x":81.7,"y":0.97},{"s":"all","x":123.2,"y":0.988},{"s":"all","x":157.5,"y":0.994},{"s":"all","x":496,"y":1},
{"s":"flat","x":-504,"y":0},{"s":"flat","x":-177,"y":0.002},{"s":"flat","x":-121,"y":0.006},{"s":"flat","x":-74.1,"y":0.015},{"s":"flat","x":-43.1,"y":0.03},{"s":"flat","x":-27.6,"y":0.045},{"s":"flat","x":-22.1,"y":0.055},{"s":"flat","x":-17.6,"y":0.064},{"s":"flat","x":-14.2,"y":0.073},{"s":"flat","x":-11.4,"y":0.082},{"s":"flat","x":-8.14,"y":0.093},{"s":"flat","x":-4.54,"y":0.105},{"s":"flat","x":-2.86,"y":0.11},{"s":"flat","x":-0.674,"y":0.122},{"s":"flat","x":-0.19,"y":0.135},{"s":"flat","x":-0.01,"y":0.165},
{"s":"flat","x":0.01,"y":0.318},{"s":"flat","x":0.137,"y":0.34},{"s":"flat","x":0.306,"y":0.386},{"s":"flat","x":0.707,"y":0.445},{"s":"flat","x":1.318,"y":0.532},{"s":"flat","x":2.97,"y":0.6},{"s":"flat","x":5.04,"y":0.68},{"s":"flat","x":9.01,"y":0.765},{"s":"flat","x":14.33,"y":0.83},{"s":"flat","x":21.9,"y":0.882},{"s":"flat","x":34.2,"y":0.933},{"s":"flat","x":52.5,"y":0.966},{"s":"flat","x":81.7,"y":0.985},{"s":"flat","x":123.2,"y":0.994},{"s":"flat","x":157.5,"y":0.997},{"s":"flat","x":496,"y":1},
{"s":"pos","x":-504,"y":0},{"s":"pos","x":-177,"y":0.007},{"s":"pos","x":-121,"y":0.019},{"s":"pos","x":-74.1,"y":0.042},{"s":"pos","x":-43.1,"y":0.081},{"s":"pos","x":-27.6,"y":0.13},{"s":"pos","x":-22.1,"y":0.155},{"s":"pos","x":-17.6,"y":0.18},{"s":"pos","x":-14.2,"y":0.2},{"s":"pos","x":-11.4,"y":0.216},{"s":"pos","x":-8.14,"y":0.24},{"s":"pos","x":-4.54,"y":0.27},{"s":"pos","x":-2.86,"y":0.283},{"s":"pos","x":-0.674,"y":0.305},{"s":"pos","x":-0.19,"y":0.32},{"s":"pos","x":-0.01,"y":0.345},
{"s":"pos","x":0.01,"y":0.391},{"s":"pos","x":0.137,"y":0.41},{"s":"pos","x":0.306,"y":0.425},{"s":"pos","x":0.707,"y":0.464},{"s":"pos","x":1.318,"y":0.52},{"s":"pos","x":2.97,"y":0.605},{"s":"pos","x":5.04,"y":0.69},{"s":"pos","x":9.01,"y":0.769},{"s":"pos","x":14.33,"y":0.831},{"s":"pos","x":21.9,"y":0.884},{"s":"pos","x":34.2,"y":0.933},{"s":"pos","x":52.5,"y":0.966},{"s":"pos","x":81.7,"y":0.985},{"s":"pos","x":123.2,"y":0.994},{"s":"pos","x":157.5,"y":0.997},{"s":"pos","x":496,"y":1}
]
},
"vconcat": [
{"vconcat": [
{"hconcat": [
{"title": {"text": "(a) Monthly labor income", "offset": 35},
 "width": 498, "height": 312, "data": {"name": "a"},
 "mark": {"type": "line", "strokeWidth": 1.8},
 "encoding": {
  "x": {"field": "x", "type": "quantitative", "scale": {"domain": [33.75, 61.25], "nice": false, "zero": false}, "axis": {"values": [35,40,45,50,55,60], "title": "age", "labelPadding": 5, "titlePadding": 5}},
  "y": {"field": "y", "type": "quantitative", "scale": {"domain": [35.52, 47.55], "nice": false, "zero": false}, "axis": {"values": [36,38,40,42,44,46], "title": "average, 1,000 DKK"}},
  "color": {"field": "s", "type": "nominal", "legend": null, "scale": {"domain": ["L1","L2","L3","L4","L5","L6","L7","L8","L9","L10","L11","L12","L13","L14","L15","L16","L17","L18","L19","L20","L21","L22","L23"], "range": ["#1f77b4","#1f77b4","#d62728","#ff7f0e","#e377c2","#2ca02c","#2ca02c","#7f7f7f","#17becf","#d62728","#ff7f0e","#8c564b","#8c564b","#ff7f0e","#9467bd","#9467bd","#17becf","#7f7f7f","#1f77b4","#e377c2","#bcbd22","#bcbd22","#2ca02c"]}}
 }},
{"title": {"text": "(b) 1-month growth rates by month"},
 "width": 500, "height": 296, "data": {"name": "b"},
 "mark": {"type": "line", "strokeWidth": 1.2},
 "encoding": {
  "x": {"field": "x", "type": "quantitative", "scale": {"type": "symlog", "constant": 0.3, "domain": [-1070, 1070], "nice": false, "zero": false}, "axis": {"values": [-1000,-100,-10,-1,0,1,10,100], "labelExpr": "datum.value == 0 ? '0' : (datum.value < 0 ? '−10' : '10') + (abs(datum.value) < 5 ? '⁰' : abs(datum.value) < 50 ? '¹' : abs(datum.value) < 500 ? '²' : '³')", "title": "100 · Δyₜ"}},
  "y": {"field": "y", "type": "quantitative", "scale": {"domain": [0, 1], "nice": false}, "axis": {"values": [0,0.2,0.4,0.6,0.8,1], "format": ".1f", "title": "cdf"}},
  "color": {"field": "s", "type": "nominal", "title": null, "scale": {"domain": ["Jan","Feb","Mar","Apr","May","Jun","Jul","Aug","Sep","Oct","Nov","Dec"], "range": ["#1f77b4","#ff7f0e","#2ca02c","#d62728","#9467bd","#8c564b","#e377c2","#7f7f7f","#bcbd22","#17becf","#1f77b4","#ff7f0e"]}, "legend": {"rowPadding": 4.6}}
 }}
], "spacing": 20, "resolve": {"scale": {"color": "independent", "x": "independent", "y": "independent"}}},
{"hconcat": [
{"title": {"text": "(c) 1-month growth rates by job-switching status", "fontSize": 22},
 "width": 498, "height": 296, "data": {"name": "c"},
 "mark": {"type": "line", "strokeWidth": 1.2},
 "encoding": {
  "x": {"field": "x", "type": "quantitative", "scale": {"type": "symlog", "constant": 0.3, "domain": [-1070, 1070], "nice": false, "zero": false}, "axis": {"values": [-100,-10,-1,0,1,10,100], "labelExpr": "datum.value == 0 ? '0' : (datum.value < 0 ? '−10' : '10') + (abs(datum.value) < 5 ? '⁰' : abs(datum.value) < 50 ? '¹' : abs(datum.value) < 500 ? '²' : '³')", "title": "100 · Δ₁₂yₜ"}},
  "y": {"field": "y", "type": "quantitative", "scale": {"domain": [0, 1], "nice": false}, "axis": {"values": [0,0.2,0.4,0.6,0.8,1], "format": ".1f", "title": "cdf"}},
  "color": {"field": "s", "type": "nominal", "title": null, "scale": {"domain": ["stayers","switchers"], "range": ["#1f77b4","#ff7f0e"]}, "legend": {"rowPadding": 4.5}}
 }},
{"title": {"text": "(d) Growth rates by horizon"},
 "width": 499, "height": 296, "data": {"name": "d"},
 "mark": {"type": "line", "strokeWidth": 1.2},
 "encoding": {
  "x": {"field": "x", "type": "quantitative", "scale": {"type": "symlog", "constant": 0.3, "domain": [-1070, 1070], "nice": false, "zero": false}, "axis": {"values": [-100,-10,-1,0,1,10,100], "labelExpr": "datum.value == 0 ? '0' : (datum.value < 0 ? '−10' : '10') + (abs(datum.value) < 5 ? '⁰' : abs(datum.value) < 50 ? '¹' : abs(datum.value) < 500 ? '²' : '³')", "title": "100 · Δₖyₜ"}},
  "y": {"field": "y", "type": "quantitative", "scale": {"domain": [0, 1], "nice": false}, "axis": {"values": [0,0.2,0.4,0.6,0.8,1], "format": ".1f", "title": "cdf"}},
  "color": {"field": "s", "type": "nominal", "title": null, "scale": {"domain": ["k12","k24","k36","k48","k60","k72"], "range": ["#1f77b4","#ff7f0e","#2ca02c","#d62728","#9467bd","#8c564b"]}, "legend": {"labelExpr": "datum.label == 'k12' ? 'Δ₁₂yₜ' : datum.label == 'k24' ? 'Δ₂₄yₜ' : datum.label == 'k36' ? 'Δ₃₆yₜ' : datum.label == 'k48' ? 'Δ₄₈yₜ' : datum.label == 'k60' ? 'Δ₆₀yₜ' : 'Δ₇₂yₜ'", "labelFontSize": 14, "rowPadding": 6}}
 }}
], "spacing": 20, "resolve": {"scale": {"color": "independent", "x": "independent", "y": "independent"}}}
], "spacing": 44, "resolve": {"scale": {"color": "independent", "x": "independent", "y": "independent"}}},
{"hconcat": [
{"title": {"text": "(e) Growth rates by age"},
 "width": 498, "height": 296, "data": {"name": "e"},
 "mark": {"type": "line", "strokeWidth": 1.2},
 "encoding": {
  "x": {"field": "x", "type": "quantitative", "scale": {"type": "symlog", "constant": 0.3, "domain": [-1070, 1070], "nice": false, "zero": false}, "axis": {"values": [-100,-10,-1,0,1,10,100], "labelExpr": "datum.value == 0 ? '0' : (datum.value < 0 ? '−10' : '10') + (abs(datum.value) < 5 ? '⁰' : abs(datum.value) < 50 ? '¹' : abs(datum.value) < 500 ? '²' : '³')", "title": "100 · Δ₁₂yₜ"}},
  "y": {"field": "y", "type": "quantitative", "scale": {"domain": [0, 1], "nice": false}, "axis": {"values": [0,0.2,0.4,0.6,0.8,1], "format": ".1f", "title": "cdf"}},
  "color": {"field": "s", "type": "nominal", "title": null, "scale": {"domain": ["age 30-40","age 40-50","age 50-60"], "range": ["#1f77b4","#ff7f0e","#2ca02c"]}, "legend": {"rowPadding": 4.5}}
 }},
{"title": {"text": "(f) Growth rates by lagged growth"},
 "width": 499, "height": 296, "data": {"name": "f"},
 "mark": {"type": "line", "strokeWidth": 1.2},
 "encoding": {
  "x": {"field": "x", "type": "quantitative", "scale": {"type": "symlog", "constant": 0.3, "domain": [-1070, 1070], "nice": false, "zero": false}, "axis": {"values": [-100,-10,-1,0,1,10,100], "labelExpr": "datum.value == 0 ? '0' : (datum.value < 0 ? '−10' : '10') + (abs(datum.value) < 5 ? '⁰' : abs(datum.value) < 50 ? '¹' : abs(datum.value) < 500 ? '²' : '³')", "title": "100 · Δ₁₂yₜ"}},
  "y": {"field": "y", "type": "quantitative", "scale": {"domain": [0, 1], "nice": false}, "axis": {"values": [0,0.2,0.4,0.6,0.8,1], "format": ".1f", "title": "cdf"}},
  "color": {"field": "s", "type": "nominal", "title": null, "scale": {"domain": ["all","flat","pos"], "range": ["#1f77b4","#ff7f0e","#2ca02c"]}, "legend": {"labelExpr": "datum.label == 'all' ? 'All' : datum.label == 'flat' ? 'Δ₁₂yₜ₋₁₂ ∈ [−0.01, 0.01]' : 'Δ₁₂yₜ₋₁₂ > 0.01'", "labelFontSize": 13.5, "labelLimit": 400, "rowPadding": 5}}
 }}
], "spacing": 20, "resolve": {"scale": {"color": "independent", "x": "independent", "y": "independent"}}}
],
"spacing": 56,
"resolve": {"scale": {"color": "independent", "x": "independent", "y": "independent"}},
"config": {
 "font": "DejaVu Sans",
 "view": {"stroke": "#cccccc", "strokeWidth": 1.25},
 "title": {"font": "DejaVu Serif", "fontSize": 23, "fontWeight": "normal", "color": "#000000", "anchor": "middle", "frame": "bounds", "offset": 29},
 "axis": {"domain": false, "ticks": false, "grid": true, "gridColor": "#cccccc", "gridWidth": 1, "labelFont": "DejaVu Sans", "labelFontSize": 12.5, "labelColor": "#262626", "titleFont": "DejaVu Sans", "titleFontSize": 12, "titleFontWeight": "normal", "titleColor": "#262626", "labelOverlap": false, "labelFlush": false, "labelPadding": 5},
 "axisX": {"labelPadding": 8, "titlePadding": 6},
 "axisY": {"titlePadding": 8},
 "legend": {"orient": "top-left", "offset": 7, "strokeColor": "#d0d0d0", "fillColor": "#ffffff", "cornerRadius": 3, "padding": 4, "rowPadding": 5, "symbolType": "M-2,0H2", "symbolSize": 182, "symbolOffset": 7, "symbolStrokeWidth": 1.5, "symbolFillColor": "transparent", "labelFont": "DejaVu Sans", "labelFontSize": 12.5, "labelColor": "#262626", "labelOffset": 17}
}
}
